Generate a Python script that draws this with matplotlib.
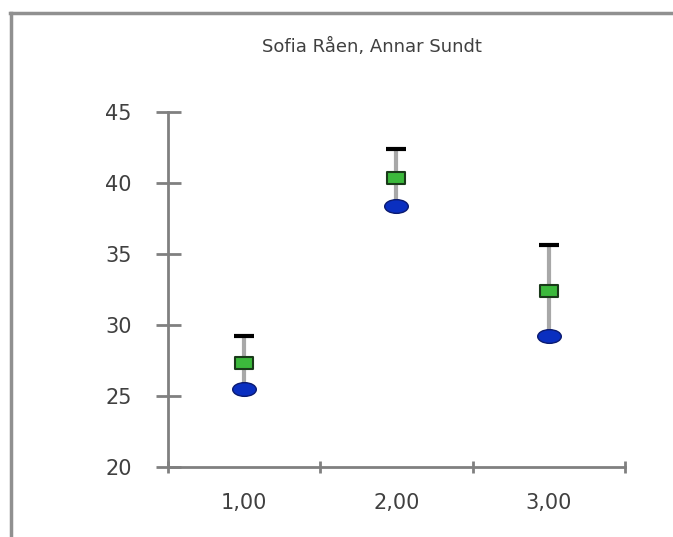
import matplotlib.pyplot as plt
from matplotlib.path import Path
from matplotlib.transforms import Affine2D
from matplotlib.lines import Line2D

title = "Sofia Råen, Annar Sundt"
x_values = [1, 2, 3]
x_labels = ["1,00", "2,00", "3,00"]
circle_values = [25.5, 38.4, 29.2]
square_values = [27.3, 40.35, 32.4]
upper_values = [29.2, 42.4, 35.6]
y_ticks = [20, 25, 30, 35, 40, 45]

# flattened markers like the original
ellipse = Path.unit_circle().transformed(Affine2D().scale(1, 0.58))
rect = Path([(-1, -0.62), (1, -0.62), (1, 0.62), (-1, 0.62), (-1, -0.62)],
            [Path.MOVETO, Path.LINETO, Path.LINETO, Path.LINETO, Path.CLOSEPOLY])

fig = plt.figure(figsize=(6.73, 5.37), dpi=100)
ax = fig.add_axes([0.2496, 0.1304, 0.679, 0.661])

ax.vlines(x_values, circle_values, upper_values, color="#a8a8a8", lw=3, zorder=2)
ax.plot(x_values, upper_values, ls="none", marker="_", ms=15, mew=3,
        color="black", zorder=3)
ax.plot(x_values, circle_values, ls="none", marker=ellipse, ms=17,
        mfc="#0a2fc0", mec="#0a1a70", mew=1, zorder=4)
ax.plot(x_values, square_values, ls="none", marker=rect, ms=13.5,
        mfc="#3cb93c", mec="#1a3a1a", mew=1.5, zorder=4)

ax.set_xlim(0.5, 3.5)
ax.set_ylim(20, 45)
ax.set_yticks(y_ticks)
ax.set_xticks(x_values)
ax.set_xticklabels(x_labels)
ax.set_xticks([0.5, 1.5, 2.5, 3.5], minor=True)

for side in ["top", "right"]:
    ax.spines[side].set_visible(False)
for side in ["left", "bottom"]:
    ax.spines[side].set_color("#808080")
    ax.spines[side].set_linewidth(2)

ax.tick_params(axis="y", direction="inout", length=18, width=2, color="#808080",
               pad=17, labelsize=15, labelcolor="#404040")
ax.tick_params(axis="x", which="major", length=0, pad=19, labelsize=15,
               labelcolor="#404040")
ax.tick_params(axis="x", which="minor", direction="inout", length=9, width=2,
               color="#808080")

fig.text(0.553, 0.912, title, ha="center", va="center", fontsize=13,
         color="#404040")

# outer frame (left and top edges)
fig.add_artist(Line2D([0.017, 0.017], [0.0, 0.976], transform=fig.transFigure,
                      color="#909090", lw=2.5))
fig.add_artist(Line2D([0.015, 1.0], [0.976, 0.976], transform=fig.transFigure,
                      color="#909090", lw=2.5))

fig.savefig("out.png", dpi=100)
